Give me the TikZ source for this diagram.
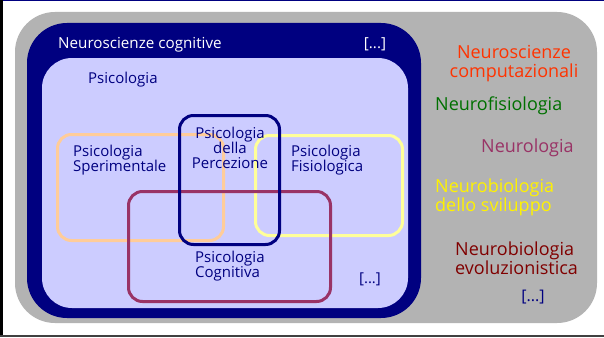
\documentclass[tikz,border=0pt]{standalone}
\usepackage{fontspec}
\setmainfont{Open Sans}
\usetikzlibrary{positioning}

\definecolor{navy}{HTML}{000080}
\definecolor{lavender}{HTML}{CCCCFF}
\definecolor{peach}{HTML}{FFCC99}
\definecolor{paleyellow}{HTML}{FFFF99}
\definecolor{plum}{HTML}{993366}
\definecolor{shade}{HTML}{B3B3B3}
\definecolor{orangered}{HTML}{FF3300}
\definecolor{leaf}{HTML}{007000}
\definecolor{maroon}{HTML}{800000}

\tikzset{
    field/.style={rectangle, anchor=north west, inner sep=0pt, outer sep=0pt},
    ring/.style={field, draw, line width=3pt, rounded corners=14pt},
    inlabel/.style={text=navy, font=\fontsize{15}{15}\selectfont, inner sep=0pt},
    outlabel/.style={font=\fontsize{18}{19}\selectfont, inner sep=0pt, align=left},
}

\begin{document}
\begin{tikzpicture}[x=1pt, y=-1pt]
    \useasboundingbox (0,0) rectangle (604,337);
    \fill[white] (0,0) rectangle (604,337);

    % frame of the slide
    \fill[navy] (0,0) rectangle (604,1.5);
    \fill[black] (0,0) rectangle (2.5,337);
    \fill[black!75] (0,335) rectangle (604,337);

    % nested fields
    \node[field, fill=shade, rounded corners=40pt, minimum width=582pt, minimum height=311pt] (neuro) at (15,12) {};
    \node[field, fill=navy, rounded corners=40pt, minimum width=394pt, minimum height=295pt] (cogn) at (27,23) {};
    \node[field, fill=lavender, rounded corners=30pt, minimum width=366pt, minimum height=250pt] (psico) at (42,58) {};

    % overlapping branches
    \node[ring, draw=peach, minimum width=166pt, minimum height=106pt] (sper) at (57.5,134.5) {};
    \node[ring, draw=paleyellow, minimum width=147pt, minimum height=100pt] (fisio) at (255.5,135.5) {};
    \node[ring, draw=plum, minimum width=202pt, minimum height=110pt] (cogni) at (128.5,191.5) {};
    \node[ring, draw=navy, minimum width=100pt, minimum height=129pt] (perc) at (179.5,115.5) {};

    % labels
    \node[inlabel, text=white, font=\fontsize{15.2}{16}\selectfont, anchor=west] (cognt) at (58,45) {Neuroscienze cognitive};
    \node[inlabel, text=white, font=\fontsize{15.2}{16}\selectfont] (cognx) at (375,44) {[...]};
    \node[inlabel, anchor=west] (psicot) at (88,80) {Psicologia};
    \node[inlabel, anchor=west, align=left] (spert) at (73,160) {Psicologia\\Sperimentale};
    \node[inlabel, align=center] (perct) at (230,148) {Psicologia\\della\\Percezione};
    \node[inlabel, anchor=west, align=left] (fisiot) at (291,160) {Psicologia\\Fisiologica};
    \node[inlabel, anchor=west, align=left] (cognit) at (195,266) {Psicologia\\Cognitiva};
    \node[inlabel] (psicox) at (370,279) {[...]};

    \node[outlabel, text=orangered, align=center] (compt) at (514,64) {Neuroscienze\\computazionali};
    \node[outlabel, text=leaf, anchor=west] (fisiolt) at (435,106) {Neurofisiologia};
    \node[outlabel, text=plum, anchor=west] (neurot) at (481,148) {Neurologia};
    \node[outlabel, text=yellow, anchor=west] (svilt) at (435,197) {Neurobiologia\\dello sviluppo};
    \node[outlabel, text=maroon, anchor=west] (evolt) at (455,258) {Neurobiologia\\evoluzionistica};
    \node[inlabel, font=\fontsize{16}{17}\selectfont] (neurox) at (533,297) {[...]};
\end{tikzpicture}
\end{document}
